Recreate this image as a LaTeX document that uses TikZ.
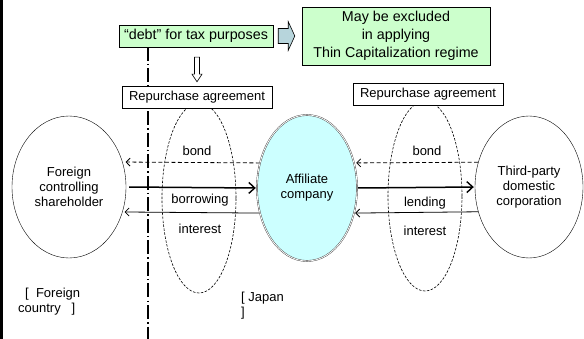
\documentclass[tikz,border=0pt]{standalone}
\usepackage{fontspec}
\setmainfont{Liberation Sans}
\usepackage{tikz}
\usetikzlibrary{arrows.meta,backgrounds,calc,shapes.geometric}
\definecolor{NoteGreen}{HTML}{CCFFCC}
\definecolor{ArrowBlue}{HTML}{B7D5DC}
\definecolor{AffilCyan}{HTML}{CCFFFF}
\tikzset{%
  BoxStyle/.style={draw,fill=white,minimum width=150pt,minimum height=22pt,inner sep=0pt,font=\fontsize{13}{15}\selectfont},
  NoteStyle/.style={draw,fill=NoteGreen,inner sep=0pt,align=center,font=\fontsize{14.3}{18}\selectfont},
  PartyStyle/.style={draw,ellipse,inner sep=0pt,align=center,font=\fontsize{13}{15}\selectfont},
  RingStyle/.style={draw,ellipse,inner sep=0pt,line width=0.6pt,dash pattern=on 2.5pt off 1.5pt,minimum width=74pt,minimum height=190pt},
  LabelStyle/.style={inner sep=0pt,align=left,font=\fontsize{13}{15}\selectfont},
  SmallArrow/.style={-{Straight Barb[length=4pt,width=8pt]},line width=0.8pt},
  BigArrow/.style={-{Straight Barb[length=6pt,width=11pt,line width=1.4pt]},line width=1.5pt}
}

\begin{document}
\begin{tikzpicture}[x=1pt,y=-1pt]
\useasboundingbox (0,0) rectangle (584,339);

\node (debt) [NoteStyle,minimum width=154pt,minimum height=22pt] at (196,36) {“debt” for tax purposes};
\node (note) [NoteStyle,minimum width=188pt,minimum height=58pt] at (396,36) {May be excluded\\in applying\\Thin Capitalization regime};

\node (repoL) [BoxStyle] at (197,97) {Repurchase agreement};
\node (repoR) [BoxStyle] at (428,94) {Repurchase agreement};

\node (foreign) [PartyStyle,minimum width=114pt,minimum height=142pt] at (69,187) {Foreign\\controlling\\shareholder};
\node (affil) [PartyStyle,fill=AffilCyan,draw=black!75,double,double distance=0.8pt,minimum width=100pt,minimum height=146pt] at (307,188) {Affiliate\\company};
\node (third) [PartyStyle,minimum width=108pt,minimum height=142pt] at (529,187) {Third-party\\domestic\\corporation};

\node (bondL) [LabelStyle] at (197,151) {bond};
\node (borrow) [LabelStyle] at (200,200) {borrowing};
\node (intL) [LabelStyle] at (200,229) {interest};
\node (bondR) [LabelStyle] at (427,151) {bond};
\node (lend) [LabelStyle] at (425,203) {lending};
\node (intR) [LabelStyle] at (425,231) {interest};

\node (abroad) [LabelStyle,anchor=north west] at (18,288) {\hspace{7pt}[\ \ Foreign\\country\ \ \ ]};
\node (japan) [LabelStyle,anchor=north west] at (241,292) {[ Japan\\]};

\coordinate (frameTop) at (1.5,0);
\coordinate (frameBot) at (1.5,339);
\coordinate (lineTop) at (148,47);
\coordinate (lineBot) at (148,339);

% block arrow to the note, hollow arrow down to the agreement
\draw [fill=ArrowBlue,line width=0.6pt]
    ($(debt.east)+(5,-7.5)$) -- ++(10,0) -- ++(0,-7) -- ($(note.west)+(-7,0)$)
    -- ($(debt.east)+(15,14.5)$) -- ++(0,-7) -- ++(-10,0) -- cycle;
\draw [fill=white,line width=0.6pt]
    ($(debt.south)+(-1.5,10)$) -- ++(5,0) -- ++(0,17) -- ++(2.5,0)
    -- ($(repoL.north)+(0,-4)$) -- ($(debt.south)+(-4,27)$) -- ++(2.5,0) -- cycle;

\begin{scope}[on background layer]
    \draw [line width=2.5pt] (frameTop) -- (frameBot);
    \draw [line width=1.4pt,dash pattern=on 14pt off 3pt on 1.5pt off 3pt] (lineTop) -- (lineBot);
    \node (ringL) [RingStyle] at (199,198) {};
    \node (ringR) [RingStyle] at (425,196) {};
    \draw [SmallArrow,dash pattern=on 4pt off 2.5pt,shorten >=3pt] (affil.152) -- (foreign.25);
    \draw [BigArrow,shorten <=3pt,shorten >=1pt] (foreign.east) -- (affil.west);
    \draw [SmallArrow,shorten >=2pt] (affil.208) -- (foreign.335);
    \draw [SmallArrow,dash pattern=on 4pt off 2.5pt,shorten >=2pt] (third.154) -- (affil.28);
    \draw [BigArrow,shorten <=1pt,shorten >=1pt] (affil.east) -- (third.west);
    \draw [SmallArrow,shorten >=1pt] (third.206) -- (affil.332);
\end{scope}
\end{tikzpicture}
\end{document}
